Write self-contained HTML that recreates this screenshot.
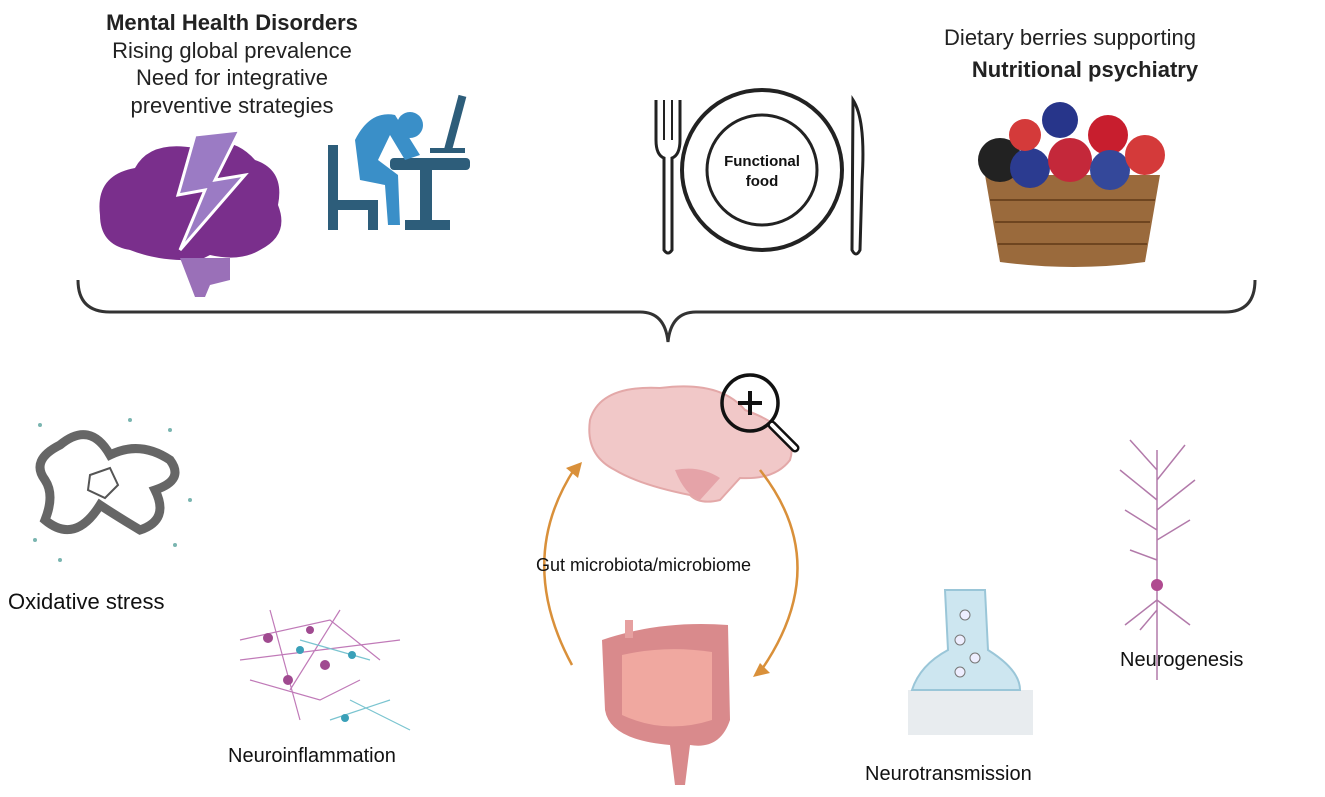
<!DOCTYPE html>
<html><head><meta charset="utf-8"><style>
body{margin:0;background:#fff;}
svg{display:block;font-family:"Liberation Sans",sans-serif;}
</style></head><body>
<svg width="1325" height="797" viewBox="0 0 1325 797" xmlns="http://www.w3.org/2000/svg">
<rect width="1325" height="797" fill="#fff"/>
<!-- top-left text -->
<g font-size="22" fill="#222" text-anchor="middle">
<text x="232" y="30" font-weight="bold">Mental Health Disorders</text>
<text x="232" y="58">Rising global prevalence</text>
<text x="232" y="85">Need for integrative</text>
<text x="232" y="113">preventive strategies</text>
</g>
<!-- purple brain -->
<path d="M100 215 Q95 175 135 168 Q150 140 195 148 Q230 132 255 160 Q285 170 278 205 Q290 235 260 250 Q240 262 210 255 L200 260 Q160 262 130 250 Q100 245 100 215Z" fill="#7a2f8c"/>
<path d="M180 258 L230 258 L230 280 L210 285 L205 297 L195 297 Z" fill="#9a70b8"/>
<path d="M195 135 L240 130 L215 180 L245 175 L180 250 L205 190 L178 195 Z" fill="#9b7bc4" stroke="#fff" stroke-width="3"/>
<!-- person -->
<g fill="#2d5d7a">
<rect x="328" y="145" width="10" height="85"/><rect x="328" y="200" width="50" height="10"/><rect x="368" y="200" width="10" height="30"/>
<rect x="390" y="158" width="80" height="12" rx="4"/><rect x="420" y="165" width="12" height="60"/><rect x="405" y="220" width="45" height="10"/>
<rect x="452" y="95" width="8" height="55" transform="rotate(15 456 120)"/><rect x="430" y="148" width="35" height="5"/>
</g>
<path d="M355 140 Q370 110 395 115 L420 155 L405 160 L390 135 L378 160 L398 175 L400 225 L388 225 L385 185 L360 180 Z" fill="#3a8fc8"/>
<circle cx="410" cy="125" r="13" fill="#3a8fc8"/>
<!-- plate -->
<circle cx="762" cy="170" r="80" fill="#fff" stroke="#222" stroke-width="4"/>
<circle cx="762" cy="170" r="55" fill="#fff" stroke="#222" stroke-width="3"/>
<text x="762" y="166" font-size="15" font-weight="bold" text-anchor="middle" fill="#111">Functional</text>
<text x="762" y="186" font-size="15" font-weight="bold" text-anchor="middle" fill="#111">food</text>
<path d="M656 100 L656 140 Q656 155 664 158 L664 250 Q668 256 672 250 L672 158 Q680 155 680 140 L680 100" fill="none" stroke="#222" stroke-width="3"/>
<path d="M664 100 L664 140 M672 100 L672 140" stroke="#222" stroke-width="2"/>
<path d="M853 100 Q866 120 862 180 L860 250 Q856 258 852 250 Z" fill="#fff" stroke="#222" stroke-width="3"/>
<!-- right text -->
<g font-size="22" fill="#222" text-anchor="middle">
<text x="1070" y="45">Dietary berries supporting</text>
<text x="1085" y="77" font-weight="bold">Nutritional psychiatry</text>
</g>
<!-- basket -->
<path d="M985 175 L1160 175 L1145 262 Q1075 272 1000 262 Z" fill="#9a6a3c"/>
<g stroke="#6e4520" stroke-width="2"><line x1="990" y1="200" x2="1155" y2="200"/><line x1="995" y1="222" x2="1150" y2="222"/><line x1="998" y1="244" x2="1147" y2="244"/></g>
<circle cx="1000" cy="160" r="22" fill="#222"/>
<circle cx="1060" cy="120" r="18" fill="#27358a"/>
<circle cx="1030" cy="168" r="20" fill="#2b3b90"/>
<circle cx="1070" cy="160" r="22" fill="#c4283a"/>
<circle cx="1108" cy="135" r="20" fill="#c81e2e"/>
<circle cx="1110" cy="170" r="20" fill="#34489a"/>
<circle cx="1145" cy="155" r="20" fill="#d43a3a"/>
<circle cx="1025" cy="135" r="16" fill="#d43a3a"/>
<!-- brace -->
<path d="M78 280 Q78 312 110 312 L640 312 Q665 312 668 342 Q671 312 696 312 L1225 312 Q1255 312 1255 280" fill="none" stroke="#333" stroke-width="3"/>
<!-- oxidative stress -->
<path d="M60 445 Q90 420 110 455 Q140 440 170 460 Q185 480 155 490 Q170 520 140 530 Q115 515 100 505 Q75 545 45 520 Q55 495 45 480 Q30 460 60 445Z" fill="none" stroke="#666" stroke-width="9"/>
<path d="M90 475 L110 468 L118 485 L105 498 L88 490Z" fill="none" stroke="#555" stroke-width="2"/>
<g fill="#7ab5b0"><circle cx="40" cy="425" r="2"/><circle cx="170" cy="430" r="2"/><circle cx="35" cy="540" r="2"/><circle cx="175" cy="545" r="2"/><circle cx="130" cy="420" r="2"/><circle cx="60" cy="560" r="2"/><circle cx="190" cy="500" r="2"/></g>
<text x="8" y="609" font-size="22" fill="#111">Oxidative stress</text>
<!-- neuroinflammation -->
<g stroke="#c07ab8" stroke-width="1.2" fill="none">
<path d="M240 640 L330 620 L380 660 M250 680 L320 700 L360 680 M270 610 L300 720 M340 610 L290 690 M240 660 L400 640"/>
</g>
<g stroke="#7ac4d0" stroke-width="1.2" fill="none"><path d="M300 640 L370 660 M350 700 L410 730 M330 720 L390 700"/></g>
<g fill="#a04a90"><circle cx="268" cy="638" r="5"/><circle cx="288" cy="680" r="5"/><circle cx="325" cy="665" r="5"/><circle cx="310" cy="630" r="4"/></g>
<g fill="#3aa0b8"><circle cx="300" cy="650" r="4"/><circle cx="352" cy="655" r="4"/><circle cx="345" cy="718" r="4"/></g>
<text x="228" y="762" font-size="20" fill="#111">Neuroinflammation</text>
<!-- center brain -->
<path d="M590 420 Q600 385 660 388 Q720 380 745 410 Q800 430 790 460 Q775 480 740 478 L720 500 Q700 505 690 495 Q640 485 615 470 Q585 455 590 420Z" fill="#f1c8c8" stroke="#e3a8a8" stroke-width="2"/>
<path d="M675 470 Q700 465 720 478 L700 500 Q685 495 675 470Z" fill="#e5a3a8"/>
<circle cx="750" cy="403" r="28" fill="none" stroke="#111" stroke-width="3.5"/>
<path d="M738 403 H762 M750 391 V415" stroke="#111" stroke-width="4"/>
<line x1="772" y1="425" x2="795" y2="448" stroke="#111" stroke-width="9" stroke-linecap="round"/>
<line x1="772" y1="425" x2="795" y2="448" stroke="#fff" stroke-width="4" stroke-linecap="round"/>
<!-- arrows -->
<path d="M572 665 Q515 560 575 468" fill="none" stroke="#d9903a" stroke-width="2.5"/>
<path d="M582 462 L566 468 L578 478Z" fill="#d9903a"/>
<path d="M760 470 Q835 565 760 672" fill="none" stroke="#d9903a" stroke-width="2.5"/>
<path d="M753 677 L770 673 L760 663Z" fill="#d9903a"/>
<text x="536" y="571" font-size="18" fill="#111">Gut microbiota/microbiome</text>
<!-- intestine -->
<path d="M602 640 Q660 620 728 625 L730 720 Q720 750 690 745 L685 785 L675 785 L670 745 Q610 740 605 710 Z" fill="#d98a8c"/>
<path d="M622 655 Q665 645 712 652 L712 720 Q665 735 622 715Z" fill="#f0a8a0"/>
<rect x="625" y="620" width="8" height="18" fill="#e6a0a0"/>
<!-- synapse -->
<rect x="908" y="690" width="125" height="45" fill="#e8ecef"/>
<path d="M945 590 L985 590 L988 650 Q1020 670 1020 690 L912 690 Q920 665 948 650 Z" fill="#cde6f0" stroke="#9ac6d8" stroke-width="2"/>
<g fill="#eef" stroke="#777" stroke-width="1"><circle cx="965" cy="615" r="5"/><circle cx="960" cy="640" r="5"/><circle cx="975" cy="658" r="5"/><circle cx="960" cy="672" r="5"/></g>
<text x="865" y="780" font-size="20" fill="#111">Neurotransmission</text>
<!-- neurogenesis neuron -->
<g stroke="#b27aaa" stroke-width="1.5" fill="none">
<path d="M1157 450 L1157 680 M1157 470 L1130 440 M1157 480 L1185 445 M1157 500 L1120 470 M1157 510 L1195 480 M1157 530 L1125 510 M1157 540 L1190 520 M1157 560 L1130 550 M1157 600 L1125 625 M1157 600 L1190 625 M1157 610 L1140 630"/>
</g>
<circle cx="1157" cy="585" r="6" fill="#b04a90"/>
<text x="1120" y="666" font-size="20" fill="#111">Neurogenesis</text>
</svg>
</body></html>
